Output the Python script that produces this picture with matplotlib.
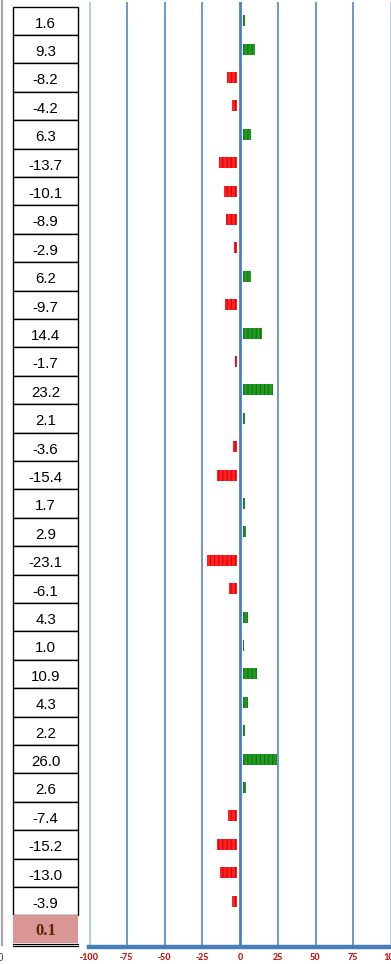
import matplotlib
matplotlib.use("Agg")
import matplotlib.pyplot as plt
from matplotlib.patches import Rectangle
from matplotlib.lines import Line2D

# values shown in the left column, one per row
row_values = [1.6, 9.3, -8.2, -4.2, 6.3, -13.7, -10.1, -8.9, -2.9, 6.2,
              -9.7, 14.4, -1.7, 23.2, 2.1, -3.6, -15.4, 1.7, 2.9, -23.1,
              -6.1, 4.3, 1.0, 10.9, 4.3, 2.2, 26.0, 2.6, -7.4, -15.2,
              -13.0, -3.9]
row_labels = [f"{v:.1f}" for v in row_values]
total_label = "0.1"
tick_values = [-100, -75, -50, -25, 0, 25, 50, 75, 100]
tick_labels = [str(t) for t in tick_values]

W, H = 391, 964
plt.rcParams["font.family"] = ["Liberation Sans", "DejaVu Sans"]
fig = plt.figure(figsize=(W / 100, H / 100), dpi=100)

# pixel layout helpers
top_px, bottom_px = 2, 947
row0_px, row_h = 20.7, 28.4


def px_to_row(p):
    return (p - row0_px) / row_h


ylim = (px_to_row(bottom_px), px_to_row(top_px))
ax_rect_y = (1 - bottom_px / H, (bottom_px - top_px) / H)

# chart axes
ax = fig.add_axes([89 / W, ax_rect_y[0], 302 / W, ax_rect_y[1]])
ax.set_xlim(-100, 100)
ax.set_ylim(*ylim)
for t in tick_values:
    if abs(t) == 100:
        ax.axvline(t, color="#b3c9e6", lw=2.0, zorder=1)
    elif t == 0:
        ax.axvline(t, color="#4a7ebb", lw=2.0, zorder=1)
    else:
        ax.axvline(t, color="#5585c0", lw=1.2, zorder=1)
for side in ("top", "left", "right"):
    ax.spines[side].set_visible(False)
ax.spines["bottom"].set_color("#4a7ebb")
ax.spines["bottom"].set_linewidth(3.2)
ax.set_yticks([])
ax.set_xticks(tick_values)
ax.set_xticklabels(tick_labels, color="#cc1111", fontweight="bold", fontsize=7.5,
                   family=["Carlito", "Liberation Sans", "DejaVu Sans"])
ax.tick_params(axis="x", length=0, pad=4)

# bars live on their own horizontal scale
ax2 = ax.twiny()
ax2.set_xlim(-113.5, 113.5)
ax2.set_ylim(*ylim)
ax2.axis("off")
gap = 1.9
plt.rcParams["hatch.linewidth"] = 0.7
for i, v in enumerate(row_values):
    if v >= 0:
        ax2.barh(i, v, left=gap, height=0.39, color="#229a22",
                 edgecolor="#0f700f", hatch="||||", linewidth=0, zorder=3)
    else:
        ax2.barh(i, v, left=-gap, height=0.39, color="#ff2222",
                 edgecolor="#d80000", hatch="||||", linewidth=0, zorder=3)

# table of values on the left
tab = fig.add_axes([13 / W, ax_rect_y[0], 65 / W, ax_rect_y[1]])
tab.set_xlim(0, 1)
tab.set_ylim(*ylim)
tab.axis("off")
for i, lab in enumerate(row_labels):
    tab.add_patch(Rectangle((0, i - 0.5), 1, 1, facecolor="white",
                            edgecolor="black", lw=1.0, clip_on=False))
    tab.text(0.5, i + 0.1, lab, ha="center", va="center", fontsize=10.8,
             color="black")
n = len(row_values)
pink_bottom = px_to_row(943)
tab.add_patch(Rectangle((0, n - 0.5), 1, pink_bottom - (n - 0.5),
                        facecolor="#d99694", edgecolor="none", clip_on=False))
tab.text(0.5, (n - 0.5 + pink_bottom) / 2 + 0.05, total_label, ha="center",
         va="center", fontsize=12, fontweight="bold", color="#5a2600",
         family=["Liberation Serif", "DejaVu Serif"])
for p in (944.3, 946.3):
    tab.add_line(Line2D([0, 1], [px_to_row(p)] * 2, color="black", lw=0.9,
                        clip_on=False))

# left-edge remnants of a neighbouring chart
fig.add_artist(Line2D([1.5 / W, 1.5 / W], [1 - 945 / H, 1.0], color="#a8a8a8",
                      lw=1.6, transform=fig.transFigure))
fig.text(0.0, 1 - 958 / H, "0", ha="center", va="center", fontsize=7,
         color="#404040")

fig.savefig("out.png", dpi=100)
